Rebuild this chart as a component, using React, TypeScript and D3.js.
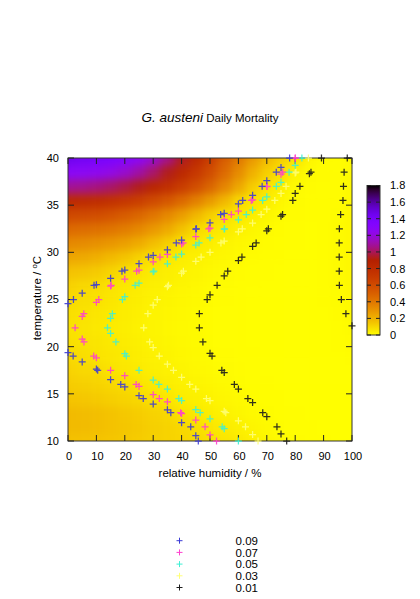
import * as d3 from 'd3';
import React from 'react';

// grid of the mortality surface: relative humidity (%) x temperature (°C)
const humidity = [0, 5, 10, 15, 20, 25, 30, 35, 40, 45, 50, 55, 60, 65, 70, 75, 80, 85, 90, 95, 100];
const temperature = [10, 11.5, 13, 14.5, 16, 17.5, 19, 20.5, 22, 23.5, 25, 26.5, 28, 29.5, 31, 32.5, 34, 35.5, 37, 38.5, 40];

// daily mortality, one row per temperature (bottom to top), one value per humidity column
const rowT10 = [0.16, 0.158, 0.152, 0.145, 0.137, 0.128, 0.119, 0.11, 0.101, 0.093, 0.076, 0.063, 0.05, 0.035, 0.022, 0.012, 0.007, 0.005, 0.004, 0.003, 0.003];
const rowT11_5 = [0.18, 0.176, 0.168, 0.158, 0.146, 0.134, 0.122, 0.11, 0.099, 0.085, 0.062, 0.048, 0.036, 0.024, 0.015, 0.008, 0.005, 0.004, 0.003, 0.003, 0.003];
const rowT13 = [0.18, 0.175, 0.165, 0.153, 0.14, 0.126, 0.112, 0.097, 0.068, 0.054, 0.041, 0.031, 0.022, 0.015, 0.008, 0.005, 0.004, 0.003, 0.003, 0.003, 0.003];
const rowT14_5 = [0.152, 0.145, 0.135, 0.122, 0.108, 0.096, 0.076, 0.062, 0.047, 0.036, 0.028, 0.021, 0.014, 0.008, 0.005, 0.004, 0.003, 0.003, 0.003, 0.003, 0.003];
const rowT16 = [0.128, 0.12, 0.11, 0.1, 0.086, 0.066, 0.054, 0.044, 0.034, 0.027, 0.021, 0.015, 0.008, 0.005, 0.004, 0.003, 0.003, 0.003, 0.003, 0.003, 0.003];
const rowT17_5 = [0.112, 0.1, 0.092, 0.07, 0.06, 0.05, 0.041, 0.033, 0.026, 0.02, 0.015, 0.009, 0.006, 0.004, 0.003, 0.003, 0.003, 0.003, 0.003, 0.003, 0.003];
const rowT19 = [0.094, 0.083, 0.067, 0.06, 0.051, 0.042, 0.033, 0.026, 0.02, 0.015, 0.0105, 0.007, 0.005, 0.004, 0.003, 0.003, 0.003, 0.003, 0.003, 0.003, 0.004];
const rowT20_5 = [0.078, 0.071, 0.063, 0.053, 0.045, 0.036, 0.028, 0.022, 0.017, 0.012, 0.008, 0.005, 0.004, 0.003, 0.003, 0.003, 0.003, 0.003, 0.003, 0.004, 0.006];
const rowT22 = [0.074, 0.066, 0.057, 0.048, 0.04, 0.032, 0.026, 0.02, 0.015, 0.011, 0.007, 0.005, 0.004, 0.003, 0.003, 0.003, 0.003, 0.003, 0.003, 0.005, 0.0095];
const rowT23_5 = [0.078, 0.071, 0.062, 0.051, 0.043, 0.035, 0.027, 0.021, 0.016, 0.011, 0.007, 0.005, 0.004, 0.003, 0.003, 0.003, 0.003, 0.003, 0.003, 0.006, 0.013];
const rowT25 = [0.095, 0.082, 0.072, 0.06, 0.048, 0.04, 0.032, 0.025, 0.019, 0.014, 0.009, 0.006, 0.004, 0.003, 0.003, 0.003, 0.003, 0.003, 0.004, 0.008, 0.016];
const rowT26_5 = [0.115, 0.1, 0.088, 0.0705, 0.058, 0.047, 0.038, 0.0305, 0.024, 0.018, 0.012, 0.008, 0.005, 0.004, 0.003, 0.003, 0.003, 0.003, 0.004, 0.009, 0.018];
const rowT28 = [0.16, 0.15, 0.135, 0.11, 0.085, 0.067, 0.0505, 0.04, 0.031, 0.023, 0.017, 0.011, 0.007, 0.005, 0.004, 0.003, 0.003, 0.003, 0.004, 0.009, 0.019];
const rowT29_5 = [0.24, 0.23, 0.21, 0.18, 0.15, 0.11, 0.08, 0.059, 0.044, 0.033, 0.025, 0.018, 0.011, 0.007, 0.005, 0.004, 0.003, 0.003, 0.004, 0.009, 0.019];
const rowT31 = [0.34, 0.33, 0.31, 0.29, 0.26, 0.22, 0.17, 0.12, 0.072, 0.053, 0.04, 0.027, 0.019, 0.011, 0.007, 0.005, 0.004, 0.003, 0.004, 0.009, 0.019];
const rowT32_5 = [0.46, 0.45, 0.43, 0.41, 0.38, 0.34, 0.29, 0.23, 0.16, 0.091, 0.068, 0.0505, 0.033, 0.022, 0.0105, 0.006, 0.004, 0.003, 0.004, 0.009, 0.018];
const rowT34 = [0.62, 0.61, 0.59, 0.56, 0.52, 0.47, 0.41, 0.34, 0.27, 0.19, 0.12, 0.08, 0.06, 0.042, 0.022, 0.0105, 0.006, 0.004, 0.004, 0.008, 0.018];
const rowT35_5 = [0.82, 0.81, 0.79, 0.76, 0.72, 0.67, 0.61, 0.54, 0.46, 0.37, 0.28, 0.19, 0.1, 0.067, 0.043, 0.02, 0.008, 0.005, 0.004, 0.006, 0.017];
const rowT37 = [1.08, 1.07, 1.05, 1.02, 0.98, 0.93, 0.86, 0.78, 0.69, 0.59, 0.48, 0.36, 0.24, 0.13, 0.0705, 0.04, 0.012, 0.006, 0.005, 0.006, 0.016];
const rowT38_5 = [1.28, 1.27, 1.25, 1.22, 1.17, 1.1, 1.02, 0.93, 0.83, 0.72, 0.6, 0.46, 0.33, 0.21, 0.12, 0.075, 0.031, 0.0105, 0.006, 0.006, 0.015];
const rowT40 = [1.45, 1.43, 1.4, 1.38, 1.33, 1.26, 1.17, 1.06, 0.94, 0.82, 0.68, 0.52, 0.4, 0.28, 0.18, 0.12, 0.0705, 0.027, 0.007, 0.005, 0.0125];

const mortality = [
  rowT10, rowT11_5, rowT13, rowT14_5, rowT16, rowT17_5, rowT19, rowT20_5, rowT22, rowT23_5, rowT25,
  rowT26_5, rowT28, rowT29_5, rowT31, rowT32_5, rowT34, rowT35_5, rowT37, rowT38_5, rowT40,
];

// contour levels and tick labels
const levels = [0.09, 0.07, 0.05, 0.03, 0.01];
const levelLabels = ['0.09', '0.07', '0.05', '0.03', '0.01'];
const xTicks = [0, 10, 20, 30, 40, 50, 60, 70, 80, 90, 100];
const yTicks = [10, 15, 20, 25, 30, 35, 40];
const cbTicks = [0, 0.2, 0.4, 0.6, 0.8, 1, 1.2, 1.4, 1.6, 1.8];

const levelColors = ['#3b3bd6', '#ff3fcf', '#3ff0d4', '#ffff78', '#1c1c1c'];
const FONT = '"Liberation Sans", Arial, Helvetica, sans-serif';

const plot = { left: 68, right: 352, top: 158, bottom: 441 };
const cb = { left: 367, right: 380, top: 185.5, bottom: 335 };

const x = d3.scaleLinear().domain([0, 100]).range([plot.left, plot.right]);
const y = d3.scaleLinear().domain([10, 40]).range([plot.bottom, plot.top]);
const cbY = d3.scaleLinear().domain([0, 1.8]).range([cb.bottom, cb.top]);
const gray = d3.scaleLinear().domain([0, 1.8]).range([1, 0]).clamp(true);

// gnuplot rgbformulae 7,5,15, negative
function palette(v: number) {
  const g = gray(v);
  const r = Math.sqrt(g);
  const gg = g * g * g;
  const b = Math.max(0, Math.sin(2 * Math.PI * g));
  return d3.rgb(r * 255, gg * 255, b * 255).formatHex();
}

function edges(vals: number[], sc: d3.ScaleLinear<number, number>, pad: number) {
  // pixel edges around each grid sample
  return vals.map((v, i) => {
    const p = sc(v);
    const a = i === 0 ? p - pad * Math.sign(sc(vals[1]) - p) : (sc(vals[i - 1]) + p) / 2;
    const b = i === vals.length - 1 ? p + pad * Math.sign(p - sc(vals[i - 1])) : (sc(vals[i + 1]) + p) / 2;
    return [Math.min(a, b), Math.max(a, b)];
  });
}

function contourPoints() {
  const nx = humidity.length;
  const ny = temperature.length;
  const gx = d3.scaleLinear().domain([0.5, nx - 0.5]).range([humidity[0], humidity[nx - 1]]);
  const gy = d3.scaleLinear().domain([0.5, ny - 0.5]).range([temperature[0], temperature[ny - 1]]);
  const sets = d3.contours().size([nx, ny]).thresholds(levels)(mortality.flat());
  const eps = 1e-6;
  return sets.map(c => {
    const k = levels.indexOf(c.value);
    const seen = new Set<string>();
    const pts: [number, number][] = [];
    c.coordinates.forEach(poly => poly.forEach(ring => ring.forEach(([px, py]) => {
      if (px < 0.5 - eps || px > nx - 0.5 + eps || py < 0.5 - eps || py > ny - 0.5 + eps) return;
      const key = px.toFixed(4) + ',' + py.toFixed(4);
      if (seen.has(key)) return;
      seen.add(key);
      pts.push([x(gx(px)), y(gy(py))]);
    })));
    return { level: c.value, color: levelColors[k], pts };
  });
}

const plus = 'M-3.5,0H3.5M0,-3.5V3.5';

export default function App() {
  const xe = edges(humidity, x, 24);
  const ye = edges(temperature, y, 24);
  const contours = contourPoints();
  const stops = d3.range(0, 1.8001, 0.05);

  return (
    <svg width={420} height={599} style={{ position: 'absolute', left: 0, top: 0, background: '#fff' }}
      fontFamily={FONT}>
      <defs>
        <clipPath id="plotClip">
          <rect x={plot.left} y={plot.top} width={plot.right - plot.left} height={plot.bottom - plot.top} />
        </clipPath>
        <filter id="smooth" x="-10%" y="-10%" width="120%" height="120%" colorInterpolationFilters="sRGB">
          <feGaussianBlur stdDeviation="4.5" />
        </filter>
        <linearGradient id="cbGrad" x1="0" y1="1" x2="0" y2="0">
          {stops.map(v => (
            <stop key={v} offset={v / 1.8} stopColor={palette(v)} />
          ))}
        </linearGradient>
      </defs>

      {/* title */}
      <text x={210} y={122} textAnchor="middle" fill="#000">
        <tspan fontStyle="italic" fontSize={13.5}>G. austeni</tspan>
        <tspan fontSize={11.5}> Daily Mortality</tspan>
      </text>

      {/* heat map */}
      <g clipPath="url(#plotClip)">
        <g filter="url(#smooth)">
          {mortality.map((row, j) => row.map((v, i) => (
            <rect key={`${i}-${j}`} x={xe[i][0]} y={ye[j][0]}
              width={xe[i][1] - xe[i][0] + 0.5} height={ye[j][1] - ye[j][0] + 0.5}
              fill={palette(v)} />
          )))}
        </g>
      </g>

      {/* frame and ticks */}
      <rect x={plot.left} y={plot.top} width={plot.right - plot.left} height={plot.bottom - plot.top}
        fill="none" stroke="#333" strokeWidth={1} />
      {xTicks.map(t => (
        <g key={'x' + t} stroke="#222">
          <line x1={x(t)} x2={x(t)} y1={plot.bottom} y2={plot.bottom - 6} />
          <line x1={x(t)} x2={x(t)} y1={plot.top} y2={plot.top + 6} />
        </g>
      ))}
      {yTicks.map(t => (
        <g key={'y' + t} stroke="#222">
          <line x1={plot.left} x2={plot.left + 6} y1={y(t)} y2={y(t)} />
          <line x1={plot.right} x2={plot.right - 6} y1={y(t)} y2={y(t)} />
        </g>
      ))}
      {xTicks.map(t => (
        <text key={'xl' + t} x={x(t) + 1} y={460} textAnchor="middle" fontSize={11}>{t}</text>
      ))}
      {yTicks.map(t => (
        <text key={'yl' + t} x={59} y={y(t)} dy="0.36em" textAnchor="end" fontSize={11}>{t}</text>
      ))}
      <text x={210} y={477} textAnchor="middle" fontSize={11.5}>relative humidity / %</text>
      <text transform="translate(41,298) rotate(-90)" textAnchor="middle" fontSize={11.5}>
        <tspan>temperature / </tspan>
        <tspan fontSize={8} dy={-4.5}>o</tspan>
        <tspan dy={4.5}>C</tspan>
      </text>

      {/* contour points */}
      {contours.map(c => (
        <g key={'c' + c.level} stroke={c.color} strokeWidth={1.25} fill="none" opacity={0.9}>
          {c.pts.map(([px, py], i) => (
            <path key={i} d={plus} transform={`translate(${px},${py})`} />
          ))}
        </g>
      ))}

      {/* colour box */}
      <rect x={cb.left} y={cb.top} width={cb.right - cb.left} height={cb.bottom - cb.top}
        fill="url(#cbGrad)" stroke="#333" strokeWidth={1} />
      {cbTicks.map(t => (
        <g key={'cb' + t}>
          <line x1={cb.left} x2={cb.left + 4} y1={cbY(t)} y2={cbY(t)} stroke="#222" />
          <line x1={cb.right - 4} x2={cb.right} y1={cbY(t)} y2={cbY(t)} stroke="#222" />
          <text x={390} y={cbY(t)} dy="0.36em" fontSize={11}>{String(t)}</text>
        </g>
      ))}

      {/* legend */}
      {levels.map((lv, k) => (
        <g key={'lg' + lv} transform={`translate(0,${540.7 + k * 11.7})`}>
          <path d="M-3,0H3M0,-3V3" transform="translate(179.5,0)" stroke={levelColors[k]} strokeWidth={1} />
          <text x={258} y={0} dy="0.36em" textAnchor="end" fontSize={11.5}>{levelLabels[k]}</text>
        </g>
      ))}
    </svg>
  );
}
